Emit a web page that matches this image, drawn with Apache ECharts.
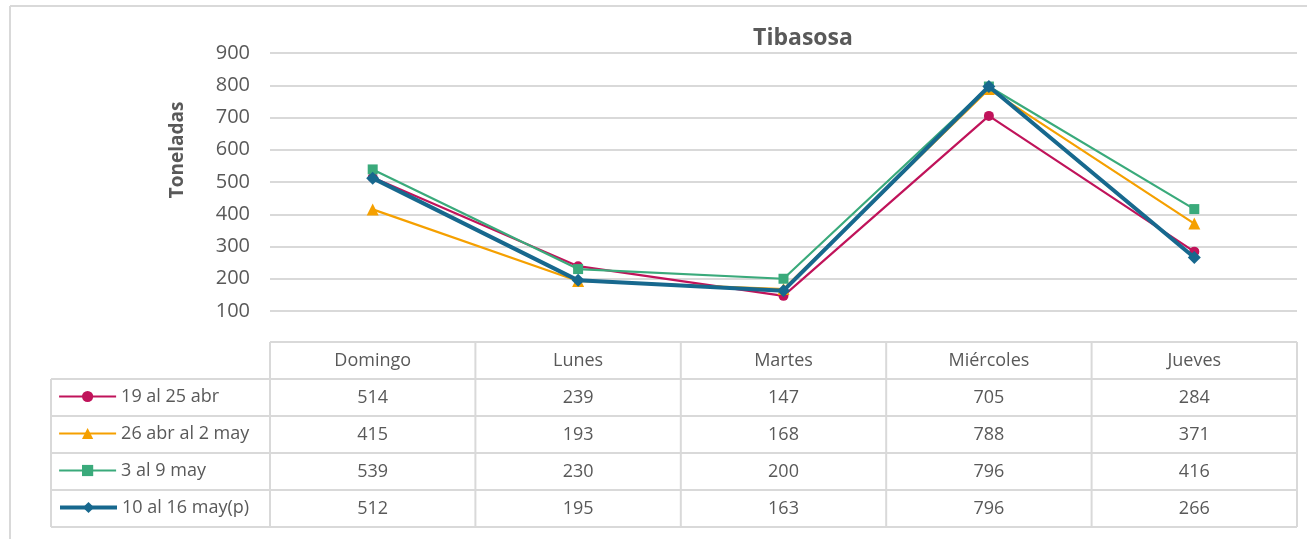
<!DOCTYPE html>
<html>
<head>
<meta charset="utf-8">
<script src="https://cdn.jsdelivr.net/npm/echarts@6/dist/echarts.min.js"></script>
<style>
  html, body { margin: 0; padding: 0; background: #fff; }
  #chart { width: 1307px; height: 539px; }
</style>
</head>
<body>
<div id="chart"></div>
<script>
  const dias = ['Domingo', 'Lunes', 'Martes', 'Miércoles', 'Jueves'];
  const semanas = ['19 al 25 abr', '26 abr al 2 may', '3 al 9 may', '10 al 16 may(p)'];
  const sem1 = [514, 239, 147, 705, 284];
  const sem2 = [415, 193, 168, 788, 371];
  const sem3 = [539, 230, 200, 796, 416];
  const sem4 = [512, 195, 163, 796, 266];
  const yMin = 100, yMax = 900, yStep = 100;

  const valores = [sem1, sem2, sem3, sem4];
  const colores = ['#C0135A', '#F5A000', '#3AAA7B', '#17688E'];
  const simbolos = ['circle', 'triangle', 'rect', 'diamond'];
  const tamanos = [10, 12, 10, 13];
  const grosores = [2.2, 2.2, 2.2, 4];

  const gris = '#595959';
  const borde = '#D9D9D9';
  const fuente = '"Open Sans", "Liberation Sans", sans-serif';

  // geometria de la grilla y de la tabla
  const gLeft = 270, gRight = 1297, gTop = 53, gBottom = 311;
  const tTop = 342, rowH = 37, legLeft = 51;

  // ejes x: encabezado + una fila por semana
  const xAxes = [{
    type: 'category',
    data: dias,
    boundaryGap: true,
    axisLine: { show: false },
    axisTick: { show: false },
    axisLabel: {
      margin: tTop + rowH / 2 - gBottom,
      verticalAlign: 'middle',
      color: gris,
      fontFamily: fuente,
      fontSize: 18
    }
  }];
  valores.forEach((fila, k) => {
    xAxes.push({
      type: 'category',
      data: dias,
      position: 'bottom',
      boundaryGap: true,
      axisLine: { show: false },
      axisTick: { show: false },
      splitLine: { show: false },
      axisLabel: {
        margin: tTop + rowH * (k + 1) + rowH / 2 - gBottom,
        verticalAlign: 'middle',
        color: gris,
        fontFamily: fuente,
        fontSize: 18,
        formatter: (v, i) => String(fila[i])
      }
    });
  });

  // una leyenda por fila de la tabla
  const leyendas = semanas.map((s, k) => ({
    left: 58,
    top: tTop + rowH * (k + 1) + rowH / 2 - 10,
    padding: 0,
    itemWidth: 57,
    itemHeight: 14,
    data: [s],
    lineStyle: { width: grosores[k] },
    textStyle: { color: gris, fontFamily: fuente, fontSize: 18 }
  }));

  // bordes de la tabla
  const lineas = [];
  const addLinea = (x1, y1, x2, y2) => lineas.push({
    type: 'line',
    shape: { x1, y1, x2, y2 },
    style: { stroke: borde, lineWidth: 2 },
    silent: true
  });
  const tBottom = tTop + rowH * 5;
  addLinea(gLeft, tTop, gRight, tTop);
  for (let r = 1; r <= 5; r++) addLinea(legLeft, tTop + rowH * r, gRight, tTop + rowH * r);
  addLinea(legLeft, tTop + rowH, legLeft, tBottom);
  const colW = (gRight - gLeft) / dias.length;
  for (let c = 0; c <= dias.length; c++) addLinea(gLeft + colW * c, tTop, gLeft + colW * c, tBottom);
  // marco exterior del grafico
  addLinea(10, 6, 1307, 6);
  addLinea(10, 6, 10, 539);

  const option = {
    animation: false,
    title: {
      text: 'Tibasosa',
      left: 798,
      top: 22,
      textAlign: 'center',
      textStyle: { color: gris, fontFamily: fuente, fontWeight: 'bold', fontSize: 23 }
    },
    legend: leyendas,
    grid: {
      left: gLeft,
      right: 1307 - gRight,
      top: gTop,
      bottom: 539 - gBottom,
      containLabel: false
    },
    xAxis: xAxes,
    yAxis: {
      type: 'value',
      min: yMin,
      max: yMax,
      interval: yStep,
      axisLine: { show: false },
      axisTick: { show: false },
      axisLabel: { color: gris, fontFamily: fuente, fontSize: 20, margin: 20 },
      splitLine: { lineStyle: { color: borde, width: 2 } }
    },
    graphic: lineas.concat([{
      type: 'text',
      x: 178,
      y: 150,
      rotation: Math.PI / 2,
      style: {
        text: 'Toneladas',
        fill: gris,
        font: 'bold 19px ' + fuente,
        align: 'center',
        verticalAlign: 'middle'
      },
      silent: true
    }]),
    series: valores.map((fila, k) => ({
      name: semanas[k],
      type: 'line',
      xAxisIndex: 0,
      data: fila,
      symbol: simbolos[k],
      symbolSize: tamanos[k],
      itemStyle: { color: colores[k] },
      lineStyle: { color: colores[k], width: grosores[k] },
      z: 2 + k
    }))
  };

  const chart = echarts.init(document.getElementById('chart'));
  chart.setOption(option);
</script>
</body>
</html>
